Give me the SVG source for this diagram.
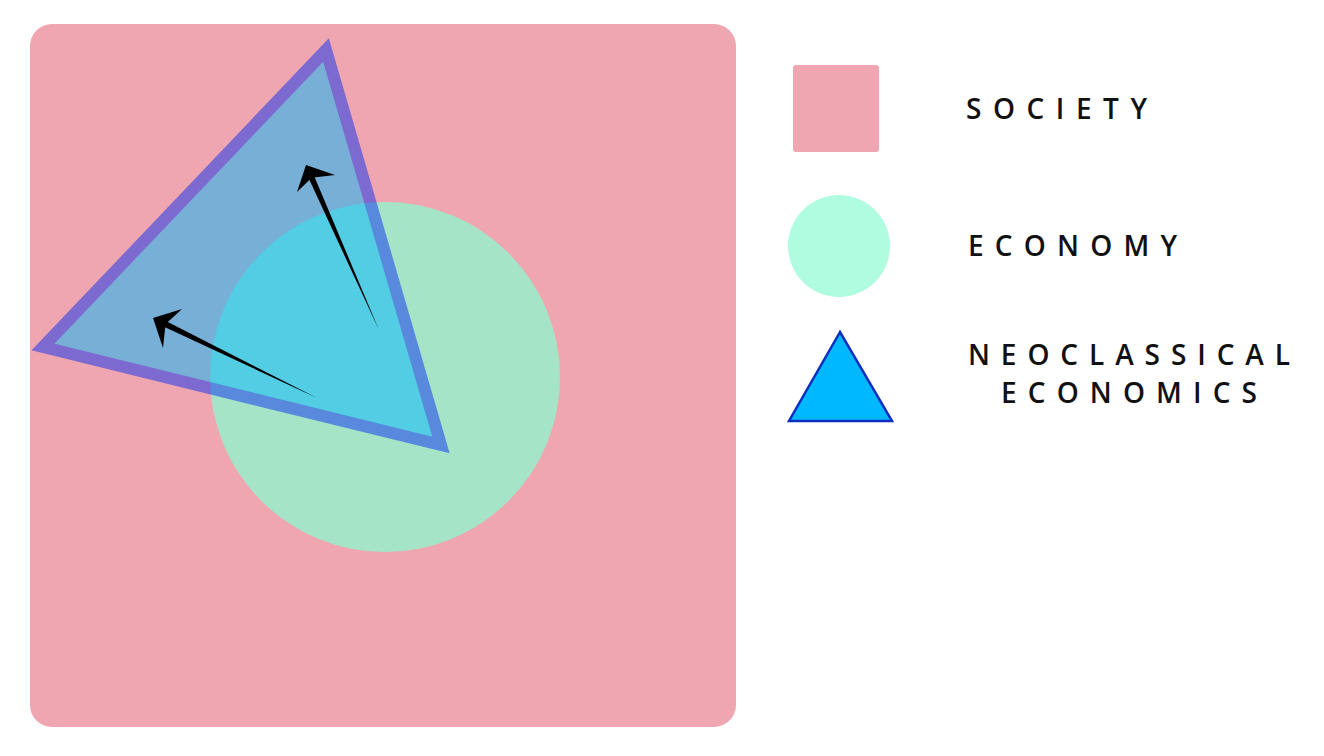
<svg xmlns="http://www.w3.org/2000/svg" width="1324" height="756" viewBox="0 0 1324 756">
<style>
.lbl{font-family:"Open Sans","Liberation Sans",Arial,sans-serif;font-size:28px;font-weight:600;fill:#111;}
.soc{fill:#F0A6B0;}
.eco{fill:#A6E4C8;}
.arr{fill:#000;}
</style>
<rect width="1324" height="756" fill="#fff"/>
<g id="society"><rect class="soc" x="30" y="24" width="706" height="703" rx="22"/></g>
<g id="economy"><circle class="eco" cx="385" cy="377" r="175"/></g>
<g id="neoclassical"><polygon points="326,50 43,347 441,445" fill="#00B8FF" stroke="#0C30F0" stroke-width="12" stroke-linejoin="miter" opacity="0.5"/></g>
<g id="connectors">
<path class="arr" d="M379,330 L313.6,174.7 L308.1,177.1 Z"/>
<path class="arr" d="M306,165 L335,175 L311.7,177.8 L297,192 Z"/>
<path class="arr" d="M317,398 L162.9,319.5 L160.2,324.9 Z"/>
<path class="arr" d="M153,318 L182,309 L165.6,324.1 L163,348 Z"/>
</g>
<g id="legend-society">
<rect class="soc" x="793" y="65" width="86" height="87" rx="3"/>
<text class="lbl" x="966" y="119" textLength="181" lengthAdjust="spacing">SOCIETY</text>
</g>
<g id="legend-economy">
<circle cx="839" cy="246" r="51" fill="#AFFCE0"/>
<text class="lbl" x="968" y="256" textLength="209" lengthAdjust="spacing">ECONOMY</text>
</g>
<g id="legend-neoclassical">
<polygon points="840,332 789,421 892,421" fill="#00B8FF" stroke="#0A2FC0" stroke-width="2.5"/>
<text class="lbl" x="968" y="365" textLength="322" lengthAdjust="spacing">NEOCLASSICAL</text>
<text class="lbl" x="1001" y="403" textLength="256" lengthAdjust="spacing">ECONOMICS</text>
</g>
</svg>
